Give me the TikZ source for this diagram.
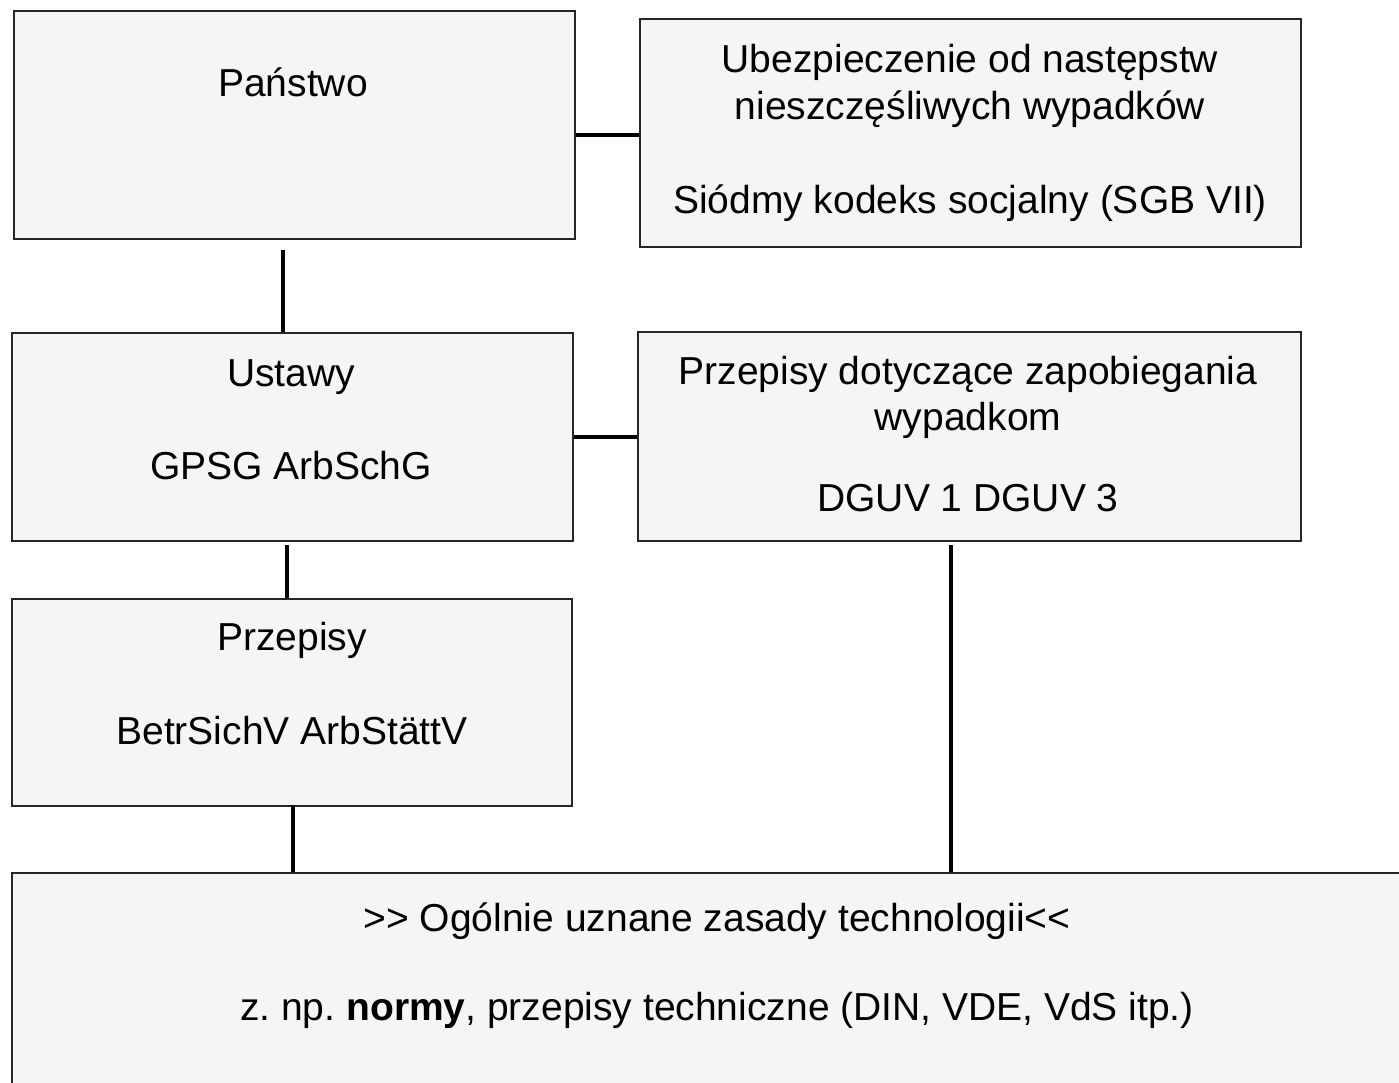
\documentclass[tikz,border=0pt]{standalone}
\usepackage{fontspec}
\setmainfont{Liberation Sans}
\frenchspacing
\begin{document}
\begin{tikzpicture}[x=1pt,y=-1pt,
  box/.style={draw=black!85,fill=black!4,line width=1.6pt,rectangle,inner sep=0pt,anchor=north west},
  link/.style={line width=3.2pt,black},
  txt/.style={font=\fontsize{39}{47}\selectfont,anchor=base,inner sep=0pt}]
\useasboundingbox (0,0) rectangle (1399,1082);
\clip (0,0) rectangle (1399,1082);

% boxes
\node[box,minimum width=561pt,minimum height=228pt] (panstwo) at (13,10) {};
\node[box,minimum width=661pt,minimum height=228pt] (ubezp) at (639,18) {};
\node[box,minimum width=561pt,minimum height=208pt] (ustawy) at (11,332) {};
\node[box,minimum width=663pt,minimum height=209pt] (prewencja) at (637,331) {};
\node[box,minimum width=560pt,minimum height=207pt] (przepisy) at (11,598) {};
\node[box,minimum width=1420pt,minimum height=240pt] (zasady) at (11,872) {};

% texts
\node[txt] (t1) at (293,96) {Państwo};
\node[txt] (t2a) at (970,72) {Ubezpieczenie od następstw};
\node[txt] (t2b) at (970,119) {nieszczęśliwych wypadków};
\node[txt] (t2c) at (970,213) {Siódmy kodeks socjalny (SGB VII)};
\node[txt] (t3a) at (291,386) {Ustawy};
\node[txt] (t3b) at (291,479) {GPSG ArbSchG};
\node[txt] (t4a) at (968,384) {Przepisy dotyczące zapobiegania};
\node[txt] (t4b) at (968,430) {wypadkom};
\node[txt] (t4c) at (968,511) {DGUV 1 DGUV 3};
\node[txt] (t5a) at (292,650) {Przepisy};
\node[txt] (t5b) at (292,744) {BetrSichV ArbStättV};
\node[txt] (t6a) at (717,931) {>{}> Ogólnie uznane zasady technologii<{}<};
\node[txt] (t6b) at (717,1020) {z. np. \textbf{normy}, przepisy techniczne (DIN, VDE, VdS itp.)};

% connectors
\coordinate (c1) at (283,250);
\draw[link] (panstwo.east |- 0,135) -- (ubezp.west |- 0,135);
\draw[link] (c1) -- (c1 |- ustawy.north);
\draw[link] (ustawy.east |- 0,437) -- (prewencja.west |- 0,437);
\coordinate (c2) at (287,545);
\draw[link] (c2) -- (c2 |- przepisy.north);
\coordinate (c3) at (293,805);
\draw[link] (c3) -- (c3 |- zasady.north);
\coordinate (c4) at (951,545);
\draw[link] (c4) -- (c4 |- zasady.north);
\end{tikzpicture}
\end{document}
